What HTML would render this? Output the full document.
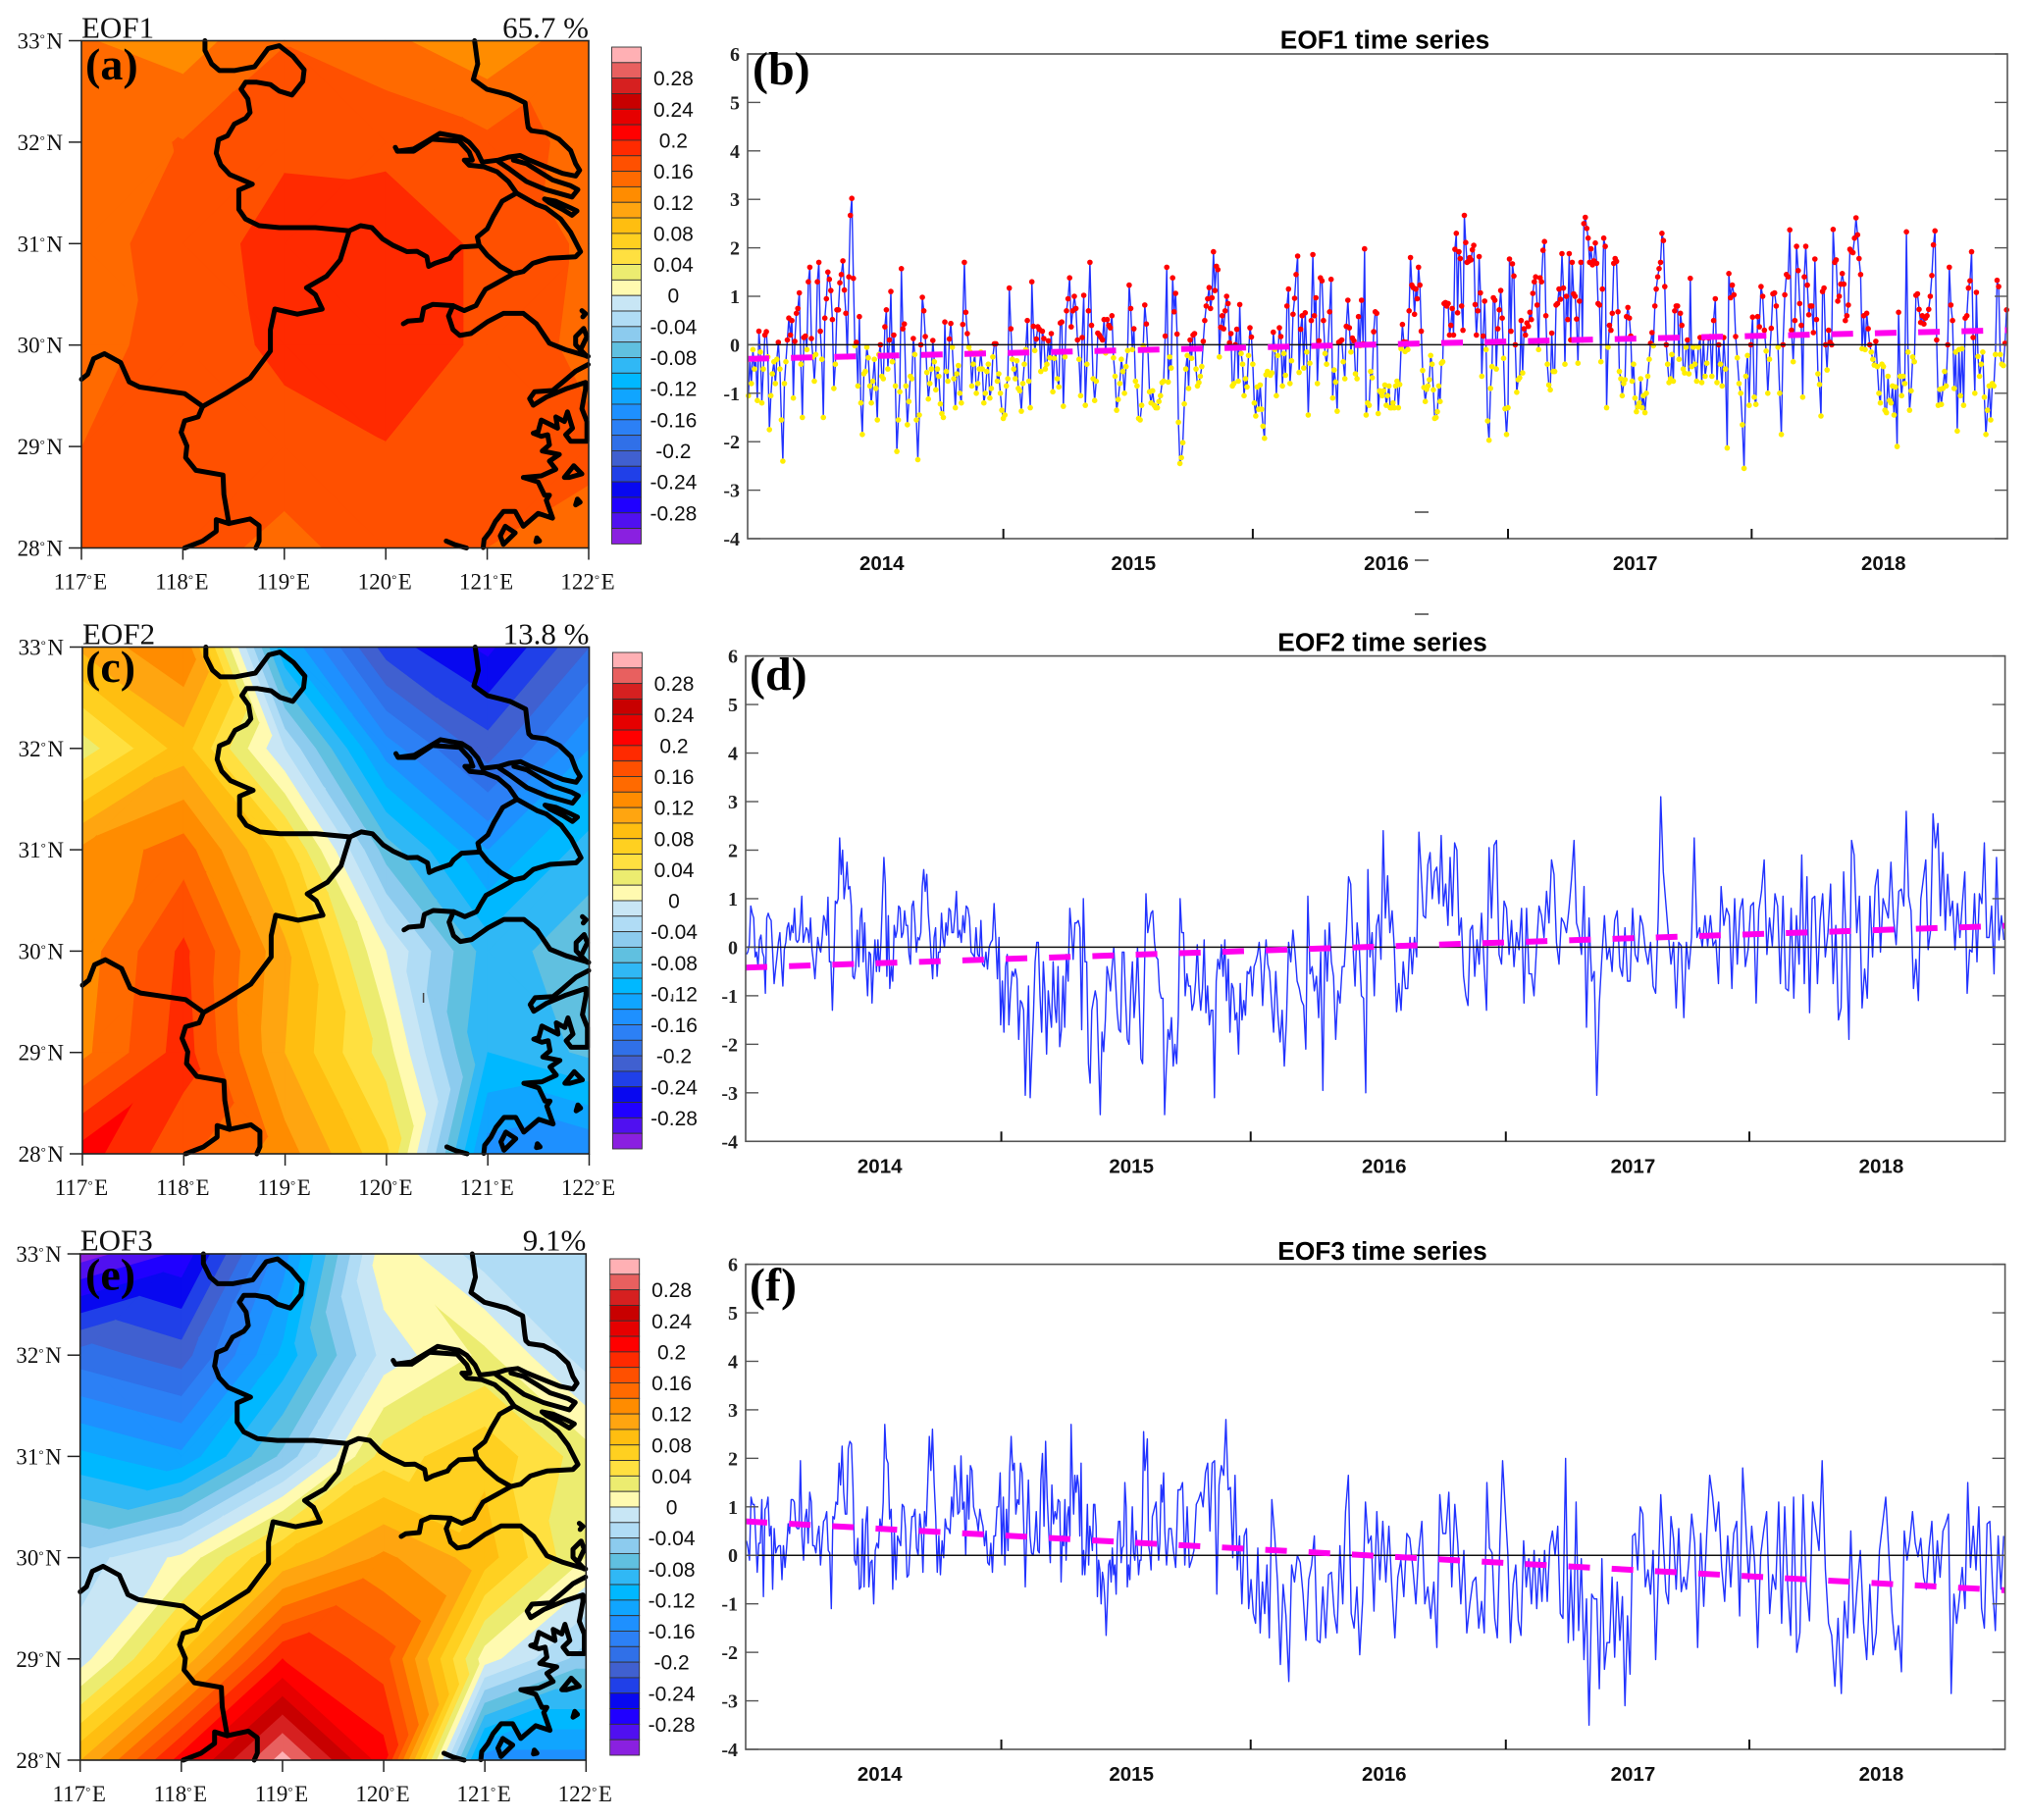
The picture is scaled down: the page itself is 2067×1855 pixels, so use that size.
<!DOCTYPE html>
<html lang="en">
<head>
<meta charset="utf-8">
<title>EOF modes and time series</title>
<style>
html,body{margin:0;padding:0;background:#fff;}
svg{display:block;}
</style>
</head>
<body>
<svg id="figure" xmlns="http://www.w3.org/2000/svg" width="2067" height="1855" viewBox="0 0 2067 1855"></svg>
<script>
/* ---------- spatial fields (rows lat 33..28, columns lon 117..122) ---------- */
const eof1Field=[
[.142,.130,.159,.145,.125,.153],
[.152,.161,.177,.176,.165,.157],
[.150,.171,.187,.190,.177,.156],
[.153,.168,.185,.190,.177,.153],
[.160,.170,.1725,.1795,.170,.165],
[.165,.1705,.153,.172,.160,.152]];
const eof2Field=[
[.105,.14,-.12,-.23,-.265,-.20],
[.03,.09,-.02,-.15,-.21,-.14],
[.125,.15,.07,-.07,-.14,-.09],
[.13,.185,.105,0,-.09,-.067],
[.135,.19,.10,.03,-.10,-.075],
[.21,.165,.13,.065,-.15,-.16]];
const eof3Field=[
[-.31,-.275,-.15,.015,-.03,-.025],
[-.19,-.21,-.115,-.012,.025,-.03],
[-.115,-.135,-.055,.05,.075,.03],
[-.03,.005,.085,.125,.09,.02],
[-.01,.085,.20,.17,.01,-.05],
[.10,.21,.31,.21,-.15,-.15]];
const lonTicks=[117,118,119,120,121,122];
const latTicks=[33,32,31,30,29,28];
const colorLevels=[.30,.28,.26,.24,.22,.20,.18,.16,.14,.12,.10,.08,.06,.04,.02,0,-.02,-.04,-.06,-.08,-.10,-.12,-.14,-.16,-.18,-.20,-.22,-.24,-.26,-.28,-.30];
const bandColors=["#ffb0b4","#e8605f","#d62020","#c80000","#e60000","#ff0000","#ff2a00","#ff5000","#ff6a00","#ff8c00","#ffa510","#ffbe10","#ffd020","#ffe040","#ecec70","#fffab0","#c8e6f5","#b0dcf5","#8ccbee","#60c0e0","#30b8f5","#00b8ff","#10a5ff","#1e90ff","#2c80f5","#3070e8","#4060d0","#2040e8","#0808f0","#2000ff","#5010f0","#8a20e0"];
const colorbarLabels=["0.28","0.24","0.2","0.16","0.12","0.08","0.04","0","-0.04","-0.08","-0.12","-0.16","-0.2","-0.24","-0.28"];

/* ---------- time-series values, one array per twelfth of the time axis ---------- */
const eof1_b01=[-1.05,-.3,-.8,-.1,-.5,-.3,-1.15,.28,-.15,-1.2,-.5,.2,.27,-.25,-1.75,-1.05,-.6,-.35,-.8,-.3,.05,-.5,-1.55,-2.4,-.8,-.35,.1,.55,.2,.5,-1.1,.07,.65,.75,1.07,-.4,-1.5,.15,.18,-.1,1.3,1.6,.13,-.25,-.75,-.2,1.3,1.7,.28,-.3,-1.5,.55,.95,1.5,1.35,1.12,.52,-.9,-.4,.72,.72,1.28,1.45,1.73,1.13,.65,-.25,1.4,2.67,3.02];
const eof1_b02=[1.37,-.02,.05,-.85,.58,-1.2,-1.85,-.6,-.55,-.05,-.27,-.85,-1.2,-.75,-.3,-.9,-1.55,-.2,0,-.65,-.7,.37,.72,-.5,.1,1.1,-.35,.2,-.85,-2.2,-1.55,-.97,1.57,.33,.43,-.85,-1.65,-1.17,-.65,-.7,.13,-.2,-1.55,-2.37,-1.45,0,.98,.7,.17,-.57,-1.12,-.8,-.5,.09,-.35,-.93,-.5,-.65,-1.22,-1.42,-1.5,.47,-.55,-.75,.12,.44,-.05,-.7,-1.3,-.6];
const eof1_b03=[-.43,-1,-1.2,.42,1.7,.67,.23,-.05,-.15,-.85,-.4,-.2,-1,-.8,-.5,-.15,-.5,-1.2,-1,-.55,-.4,-1.1,-.9,-.25,.02,.02,-.75,-.6,-1,-1.35,-1.52,-1.45,-.85,-.7,1.17,.33,-.3,-.5,-.7,-.33,-.9,-.95,-1.37,-.8,-.4,-.1,.5,-.75,-1.3,1.3,.38,-.12,.12,.37,.32,-.55,.28,.13,-.5,-.4,.08,-.27,.23,-.97,-.28,-.15,-.7,-.87,.45,.47];
const eof1_b04=[-1.27,-.25,.7,.95,1.38,.37,.7,1,.75,.1,-.3,-1.05,.15,1.02,-1.25,-.4,.7,1.7,.4,-.7,-1.15,-.75,.24,.2,.15,.1,.52,-.17,.52,.4,.35,.6,-.27,-.65,-1.35,-1.13,-.8,-.3,-.55,-1,-.45,-.12,1.23,.75,-.1,.33,-.75,-.85,-1.52,-1.55,-1.25,-.02,.82,.43,-.12,-.97,-1.2,-.95,-1.25,-1.3,-1.3,-1.17,-1.05,-.78,-.75,.18,1.6];
const eof1_b05=[-.77,-.25,-.48,1.38,.68,1.06,.22,-1.6,-2.45,-2.33,-2.02,-1.22,-.5,-.22,-.9,.1,-.28,.2,.23,-.5,-.85,-.78,-.65,-.45,.07,.5,.8,.95,1.18,.75,.97,1.92,1.12,1.62,1.55,-.25,.36,.6,.33,.7,1,.85,.04,.23,-.85,-.8,0,.32,-.75,.83,-.18,-.4,-1.05,-.7,-.87,-.22,.35,.16,-.4,-1.2,-1.47,-.87,-1.33,-.83,-1.33,-1.68,-1.93,-.62,-.55,-.6,-.63,-.58];
const eof1_b06=[.26,-.1,-1.05,-.22,.35,.17,-.85,-.18,-.63,.8,1.15,-.8,-.33,.63,.96,1.45,1.83,-.57,.32,.6,-.48,.66,-.15,-1.45,-.38,.5,1.86,.6,.97,-.8,.08,1.38,1.32,.5,-.18,-.4,-.03,.68,1.35,-1.1,-.52,-.77,-1.37,.05,.07,.1,-.35,-.7,.38,.92,.35,-.15,.14,.08,-.6,-.7,.58,-.02,.92,.02,1.98,-1.45,-1.2,-1.25,-.55,-.68,.27,.68,.65];
const eof1_b07=[-1.42,-.95,-.98,-1.05,-.95,-.83,-1.25,-1.05,-.85,-1.3,-1.3,-1.2,-1.3,-.85,-.75,-1.3,-.82,-.08,.42,.06,-.14,.05,-.1,.7,1.8,1.23,1.18,.63,1.15,.95,1.6,1.23,.28,-.53,-.88,-1.17,-.92,-.85,-.72,-.22,-.4,-.93,-1.52,-1.5,-1.38,-.85,-1.17,-.38,-.35,.85,.87,.8,.85,.2,.4,.75,.2,1.97,2.3,.66,1.92,1.78,.8,.3,2.67,2.11,1.7,1.72,1.8,1.75,1.96,2.05,.83,.2,.7,1.82,1.07,-.65];
const eof1_b08=[.18,.9,-.1,-1.57,-1.97,-.9,-.45,.97,.92,-.5,.33,.72,1.12,.55,-.28,-1.32,-1.85,-1.3,1.77,.28,1.67,1.42,0,-.98,-.72,-.68,.5,-.58,.33,.2,.45,.38,.67,.52,1.06,1.3,1.4,.82,-.1,1.38,1.3,1.95,2.13,.6,-.4,-.83,-.93,.24,-.55,-.55,.82,.85,1.15,.94,1.88,1.17,-.4,1,.52,1.88,.1,1.7,1.05,1,.53,-.38,.9,1.7,.1,2.5,2.63,2.4];
const eof1_b09=[2.2,1.7,1.98,1.65,1.73,2.1,1.68,.85,.82,-.35,1.15,2.2,2.03,-1.3,-.05,.4,.3,.65,1.68,1.78,1.72,.68,-.55,-.7,-1.05,-.8,-.72,.58,.77,.55,.18,-.75,-.4,-1.1,-1.38,-1.28,-1.2,-.7,-1.3,-1.05,-1.4,-1,-.65,-.3,.03,.25,-.02,.8,1.15,1.4,1.57,1.7,2.3,2.15,1.2,0,-.4,-.78,-.7,-.2,-.75,.7,.8,.8,-.3,.65,.4,-.5,-.58,-.05,.1,-.6,1.37,-.45];
const eof1_b10=[-.05,-.4,-.75,-.05,.15,-.78,.14,-.65,-.38,.14,.17,-.65,.5,.95,-.78,0,-.4,-.85,.15,-.5,-2.13,1.47,.97,1.23,1.03,.17,-.27,-.8,-1,-1.65,-2.55,-.65,-.22,-1.25,0,.57,-1.08,-1.23,.58,.37,1.2,1,.3,-.13,-1,-.3,.34,1.05,1.07,.8,-.05,-1,-1.85,0,1.03,1.45,1.4,2.37,.3,-.35,.5,2.03];
const eof1_b11=[1.53,.85,.4,-1.08,1.4,2.03,1.23,.62,.8,.8,.25,1.77,.52,-.6,-.82,-1.47,1.1,1.17,0,-.52,.3,.05,0,2.38,1.7,1.75,.9,1,1.25,1.47,1.25,.5,.6,.82,1.97,1.92,1.9,2.2,2.62,2.27,1.78,1.45,-.08,.6,-.1,.65,.33,0,-.15,-.3,-.42,.07,-.45,-1,-1.2,-.4,-.45,-1.35,-1.4,-.65,-1.15,-1.2,-.85,-1.45,-.87,-2.1,.67,-.65,-1.05];
const eof1_b12=[-.65,-.8,2.33,-.15,-1.35,-.95,-.25,-.35,1.02,1.05,.73,.46,.6,.43,.55,.6,.73,1,1.43,2.06,2.35,.1,-1.25,-.92,-1.23,-.9,-.55,-.85,0,1.6,.82,.5,-.9,-.15,-1.78,-.1,-1.05,-.08,-1.25,.55,.6,1.17,1.32,1.92,.15,-1,1.08,-.24,-.65,-.4,-.15,-1.08,-1.85,-1.35,-.85,-1.55,-.8,-.85,-.2,1.33,1.2,-.2,-.4,-.43,.03,.72];

const eof2_b01=[-.15,-.1,.05,.85,.7,.6,-.2,-.1,-.4,.15,.25,-.1,-.2,-.95,.6,.7,.6,.55,-.1,-.75,-.45,-.2,.1,.3,-.3,-.8,-.05,.1,.4,.5,.15,.45,.3,.8,.15,.1,.15,.5,1.05,.1,.25,.4,.35,.1,.6,-.05,-.3,-.65,-.2,.2,0,-.1,.2,.65,.55,.25,1.03,-.3,-.3,-1.3,-.3,.95,.9,1,2.25,1.5,2,1,1.3,1.75,1.2,1.25];
const eof2_b02=[.85,-.6,-.65,-.4,.35,-.4,.6,.8,-.3,.5,-.4,-1,-.1,-.15,-1.15,-.4,.15,-.5,.15,-.5,.1,1,1.85,1.3,-.6,.65,-.85,-.4,-.7,.45,.2,.35,.85,.8,.2,.3,.75,.45,.45,-.15,-.35,.85,.95,.5,-.1,.2,.15,.3,1.25,1.6,1.15,1.5,.7,.3,-.2,-.65,.2,.4,-.6,-.1,-.1,.7,.2,0,.5,.25,.8,.75,.3,.3,.65];
const eof2_b03=[1.15,.2,.35,.1,.65,.3,.85,.8,.6,-.1,-.15,-.2,.4,-.15,-.2,.55,-.35,-.4,-.1,-.45,0,.1,.15,.9,.2,-.65,.2,-1.6,-.7,-1.75,-.4,-.15,-1.6,-.95,-.5,-.6,-.45,-.65,-1.9,-1.1,-1.15,-1.3,-3.05,-1.9,-.8,-3.1,-2.2,-1.4,-.3,.1,.1,-1,-1.75,-.3,-.9,-2.2,-.9,-1.3,-1.65,-.3,-1.2,-1.55,-.4,-2.05];
const eof2_b04=[-1.7,-.6,-1.65,-.15,-.7,.8,.35,-.25,.5,.5,.55,.4,-1.7,1,-.3,-.3,-2.4,-2.8,-1.3,-1.1,-.9,-1.1,-2.3,-3.45,-1.75,-2.15,-1.5,-.4,-.6,-.9,-.4,0,-.7,-1.35,-1.7,-1.75,-.1,-.1,-1.1,-1.9,-2,-.9,-.3,-1.45,-.9,0,-1.1,-2.3,-2.4,-.7,1.1,.3,.5,.7,.75,.1,-.2,-.25,-.9,-1.05,-1.05,-3.45];
const eof2_b05=[-2.5,-1.7,-1.9,-1.45,-2.45,-2,-2.4,-1.4,1,.3,.3,-1,-.55,-.8,-.8,-1.3,-1.15,-.7,.05,-.85,-1.3,-.85,.15,-1.35,-.8,-1.6,-1.3,-1.3,-3.1,-.7,-.25,-.45,.05,-.6,.15,-1.1,-.25,-1.75,-.75,-.85,-1.5,-1.35,-2.2,-.75,-1.5,-1.1,-1.4,-.5,-.55,-.4,-1,-.4,-.3,-.15,.1,-.35,-1.2,-.4,.15,-.35,-.5];
const eof2_b06=[-1.1,-1.75,-.5,-1.4,-1.95,-1.3,-2.45,-1.5,.1,-.3,.35,-.1,-.7,-.85,-1.1,-1.2,-2.1,1.05,-.55,-.4,-.9,-.6,-1.45,-.1,-2.95,.35,-.7,.5,-.3,-.6,-1.9,-.9,-1.15,-.4,-.4,.35,1.45,1.3,.05,-.8,.5,0,-1,-1.05,-3,1.6,-.2,.3,-1];
const eof2_b07=[.43,.67,-.25,2.4,.6,1.47,.3,.75,0,-1.33,-.75,-1.3,-.3,-.85,-.85,.2,-.55,.2,-.2,2.37,1.55,.65,.6,1.7,1.95,1,1.55,1.65,.9,2.3,.85,1.3,.45,1.85,.65,2.15,2,.25,.6,-.6,-1,-1.2,.35,.45,-.6,.15,-.35];
const eof2_b08=[.7,-.35,-1.3,2.05,.6,2.1,2.2,-.15,-.35,.95,.8,-.15,.55,-.4,.3,-.05,.8,-1.15,.8,-.55,-.55,-1,0,.85,.65,.2,1.15,.5,1.8,1.5,.1,-.35,.6,.5,.3,.8,1.4,2.2,.5,.3,-.15,1.25];
const eof2_b09=[-1.65,.6,-.7,-.5,-3.05,-1.15,-.2,.65,-.25,0,-.5,.55,.75,-.4,-.6,.4,-.7,-.7,.8,-.15,-.3,.65,.45,-.05,-.35,.1,-.8,-.95,.6,3.1,1.55,.9,.25,-.35,.1,-1.25,.1,.03,-1.45,.1,-.45];
const eof2_b10=[.2,2.25,.2,.4,0,.65,.03,.65,.03,.15,-.75,1.25,.45,.8,.65,-.85,1,-.35,.75,1,-.4,-.05,.85,.92,-1.15,.75,1.15,1.8,-.15,.6,.03,1.1,.85,-.75,1.05,-.85,-.9,.8,-1.05];
const eof2_b11=[.65,-.35,1.9,-.75,1.45,-1.35,1,1.05,-.75,.55,1.1,-.2,.3,1.3,-.75,.45,-1.5,-1.25,1.55,.03,-1.9,2.2,1.9,.3,1.05,-1.25,-.45,-1.05,1.05,-.2,1.25,1.6,-.1,1,.8,.6,1.75,.6,.05,1.15];
const eof2_b12=[1.2,.85,2.8,1.05,.75,-.85,-.25,-1.1,1,1.4,1.8,-.05,.35,2.75,2.05,2.55,.65,1.95,.35,1.5,.65,.95,-.05,.9,.2,.9,1.55,-.95,-.05,-.1,1.1,-.3,1.1,.9,2.15,.2,.2,.85,-.55,1.85,.15,.65,.15];

const eof3_b01=[.3,.15,-.1,1.2,1.05,1.05,.4,-.35,.25,.25,1.15,-.85,.95,1,1.2,.4,.6,-.7,.55,.05,.15,.2,.2,-.5,.2,-.25,.15,.65,.45,1.15,1.15,1.1,.6,.55,.55,1.95,.4,-.1,.75,.95,.25,1.3,1.1,.2,.2,.05,.4,.6,-.2,.3,.7,.75,.9,.1,.05,-1.1,.8,.75,1.1,1.05,1.9,1.45,2.25,1.3,.85,.85,2.2,2.35];
const eof3_b02=[2.3,1.4,-.1,-.2,.35,-.7,-.65,.75,-.65,.65,1,-.65,-.15,-.1,-1,.1,.25,.15,.75,.5,1.1,2.7,2,1.9,.75,.95,-.7,.5,-.5,.4,.3,.2,1.05,1,.55,-.45,-.4,.2,.8,.8,.95,.15,0,.85,.5,-.35,.9,.6,1.5,2.45,1.75,2.6,1.5,.8,-.35,.4,-.4,.3,-.05,.75,.55,.55,.45,1.2,.8,1.85];
const eof3_b03=[1.5,.85,.9,2.05,.95,1.1,0,1.65,.75,1.85,1.75,1,.85,.75,.5,.95,.75,.6,.2,.5,-.15,-.2,.25,-.35,.4,.4,1,1,1.7,0,1.2,-.2,.95,.1,1.7,2.45,1.75,1.9,.85,1.15,1.05,1.9,1.7,.65,-.65,.6,1.55,.4,.05,0,.3,.9,.1,.05,1.55,2.1,.6,2.35,1.2,.5,-.15,1.45,.65,.9,.75,1.15,1.1];
const eof3_b04=[-.55,.4,.2,1.15,-.1,.8,1,.4,2.7,1.6,.85,1.65,1.3,1.65,1.4,.4,1.9,-.4,.1,-.4,.1,1.05,-.2,.6,.4,.1,1.05,1.05,.6,-.85,-.1,-.3,-1,-.35,-.5,-.9,-1.65,-.95,-.2,-.1,-.55,.15,-.4,-.2,-.8,.3,.7,.7,-.15,.15,.2,1.5,1,-.65,-.2,-.5,.2,1,.05,-.1,.5,.15,-.4,-.1,-.1,.75,2.55,1.75,2,2.4,.2,.05,-.3,.8,.9,1,1.1,.4,-.1,.25,1.45,1.1,1.7,.5];
const eof3_b05=[-.2,.55,.55,.1,-.25,1.35,1.35,1.5,-.2,1,-.25,-.1,.1,1.05,1.15,1.3,1,1.7,1.9,.5,1.9,1.95,-.8,1.45,1.85,1.65,2.8,1.35,1.4,-.05,1.65,-.3,.4,-1,.4,.55,-1.1,-.5,-1.2,-1.4,.15,-1.6,-.55,-1.2,-.2,-1.7];
const eof3_b06=[1.15,.4,-.55,-2.25,-.6,-1.25,-2.6,-.2,-.55,0,-.15,-.8,-1.75,-.5,-.2,.4,-1.75,-1.8,-.65,-1.7,-.4,-.35,-1.2,-1.6,.2,-1,.9,1.65,-1.2,-1.5,-.65,-2.05,-.95,1.1,.25,.4,-1.15];
const eof3_b07=[.9,-.5,.7,-.55,.6,-.65,-1.7,-.45,-.1,-.85,.45,.35,-.25,-1,.1,.7,-1,-.65,-1.3,-.55,-1.9,1.25,.45,.45,1.3,-.65,1.05,.25,-1,.1,-1.6,-1,-.55,-.45,-1.5];
const eof3_b08=[-.95,-1.6,1.5,.15,.05,-1.3,-1.7,.3,1.95,.95,.05,-1.8,-.6,-.2,-1.35,-1.65,.3,-.65,-.07,-1,.1,-1.1,-.07,-.95,.1,-.95,.2,.5,0,.6,-1.2,-1.3,2,-1.8,-.3,-1.75,1.1,-1.55,-.07,-2.15];
const eof3_b09=[-.9,-3.5,-.8,-.9,-.9,-2.75,-.07,-2.35,-1.8,-1.8,-.45,-2.1,-.55,-1.75,-.85,-3.1,-1.25,-2.45,.4,.45,-.3,1,.85,-.65,-.3,-.8,.1,-2.15,-.5,1.25,.25,-.75,-1,.8,.35,-.7,.55,-.75,-.45,-.7,-.1];
const eof3_b10=[.85,.25,-1.9,.45,-1.05,.4,1.65,1.2,.5,1.1,-.25,-.95,.4,-.65,.45,.7,-1.25,1.8,.7,-.55,.6,-.15,-1.9,0,.5,.9,-1.2,-.4,-.7,1.1,-1.4,1,-.6,-1.65,1.2];
const eof3_b11=[-2,-1.6,1.25,-.6,-1.35,1.1,.6,.1,1.95,-.3,-1.4,-1.65,-2.7,-1.3,-2.85,-.95,-1.7,.5,-1.6,-.65,.1,-1.4,-2.15,-.6,-2.05,-1.6,.1,.65,1.2,0,-1.2,-1.95,-1.45];
const eof3_b12=[-2.4,.5,-.1,.3,.9,.25,-.03,.35,-.45,-.7,.15,.7,-.65,.3,-.45,.5,.65,.85,-2.85,-.8,-1.4,-.85,-.25,-1.1,1.5,-.25,.6,-.3,1,-1.1,-1.5,.65,.7,-.65,-1.55,.4,-.7,.4];

const eof1Blocks=[eof1_b01,eof1_b02,eof1_b03,eof1_b04,eof1_b05,eof1_b06,eof1_b07,eof1_b08,eof1_b09,eof1_b10,eof1_b11,eof1_b12];
const eof2Blocks=[eof2_b01,eof2_b02,eof2_b03,eof2_b04,eof2_b05,eof2_b06,eof2_b07,eof2_b08,eof2_b09,eof2_b10,eof2_b11,eof2_b12];
const eof3Blocks=[eof3_b01,eof3_b02,eof3_b03,eof3_b04,eof3_b05,eof3_b06,eof3_b07,eof3_b08,eof3_b09,eof3_b10,eof3_b11,eof3_b12];
const eof1Trend=[-.29,.30];
const eof2Trend=[-.42,.44];
const eof3Trend=[.70,-.72];
const valueTicks=[-4,-3,-2,-1,0,1,2,3,4,5,6];
const yearLabels=["2014","2015","2016","2017","2018"];
const yearLabelFractions=[.1065,.3063,.507,.7046,.9017];
const yearTickFractions=[.203,.401,.6036,.797];

/* ---------- coastline / boundary traces, in units of 1/225 degree lon and 1/261.6 degree lat from the 117E/33N corner ---------- */
const boundaryTraces=[
[[274,0],[274,25],[289,60],[306,77],[339,77],[384,67],[414,20],[439,13],[469,40],[494,75],[491,105],[467,140],[439,130],[419,113],[389,107],[364,107],[354,125],[369,150],[374,185],[364,200],[339,215],[324,245],[304,255],[299,290],[309,320],[329,345],[379,370],[349,385],[349,435],[364,460],[394,477],[439,482],[519,482],[594,490],[619,477],[644,482],[668,511],[690,527],[722,544],[744,543],[766,557],[770,582],[784,574],[817,561],[824,549],[842,532],[882,529]],
[[594,490],[574,565],[544,607],[499,637],[519,655],[534,692],[479,705],[429,692],[419,745],[419,800],[374,870],[319,910],[269,943],[229,910],[129,893],[106,880],[87,830],[51,807],[27,820],[14,860],[0,873]],
[[269,943],[259,970],[229,980],[221,1010],[234,1045],[231,1075],[254,1108],[314,1120],[316,1170],[327,1245],[299,1235],[299,1265],[269,1290],[229,1308]],
[[327,1245],[374,1233],[394,1250],[394,1290],[387,1308]],
[[965,393],[933,414],[914,452],[900,485],[878,506],[882,527],[900,553],[929,582],[958,601],[980,595],[1001,574],[1038,561],[1096,557],[1107,544],[1085,494],[1063,460],[1030,431],[1009,422],[965,393]],
[[958,601],[929,620],[896,641],[885,662],[875,683],[849,696],[824,683],[779,680],[759,690],[754,720],[724,723],[714,730]],
[[824,683],[814,710],[824,745],[839,760],[864,755],[900,725],[936,703],[980,703],[1009,730],[1038,780],[1074,797],[1124,814]],
[[872,0],[879,60],[869,100],[899,125],[949,140],[984,160],[989,210],[991,224],[998,232],[1030,237],[1059,254],[1085,283],[1096,317],[1105,334],[1096,349],[1067,342],[1030,325],[994,308],[973,296],[947,300],[925,308],[889,313],[878,287],[860,262],[842,249],[795,239],[762,262],[737,279],[701,285],[696,275]],
[[701,285],[737,285],[777,254],[838,259],[860,287],[867,308],[849,308],[860,321],[893,325],[922,338],[947,363],[965,393]],
[[925,312],[947,329],[987,363],[1030,384],[1088,403],[1101,384],[1085,374],[1045,359],[1016,338],[987,317],[958,308]],
[[1027,408],[1052,414],[1085,431],[1099,439],[1088,450],[1067,435],[1038,418],[1027,408]],
[[1124,835],[1096,852],[1067,881],[1045,902],[1005,905],[994,923],[1002,940],[1031,919],[1074,898],[1118,881],[1118,898],[1110,949],[1121,982],[1121,1033],[1085,1033],[1074,1016],[1089,999],[1078,957],[1071,982],[1052,970],[1056,999],[1020,978],[1013,1008],[1002,1012],[1020,1020],[1034,1016],[1038,1042],[1022,1058],[1060,1067],[1038,1084],[1052,1105],[1020,1122],[980,1126],[1013,1138],[1027,1172],[1038,1172],[1031,1185],[1045,1231],[1013,1219],[980,1252],[962,1214],[936,1214],[918,1240],[907,1265],[893,1286],[891,1307]],
[[940,1252],[962,1269],[936,1299],[929,1277],[940,1252]],
[[809,1290],[829,1300],[854,1308]],
[[1110,696],[1118,704],[1112,712]],
[[1096,763],[1114,742],[1121,763],[1107,797],[1121,814],[1096,784],[1096,763]],
[[1082,1126],[1110,1117],[1092,1096],[1071,1126],[1082,1126]],
[[1100,1182],[1096,1197],[1106,1190],[1100,1182]],
[[1010,1282],[1016,1290],[1008,1292],[1010,1282]]
];

/* ---------- layout ---------- */
const mapPanels=[
{id:"eof1",field:eof1Field,x:83,y:41.5,w:517,h:517,title:"EOF1",pct:"65.7 %",tag:"(a)",tagX:87,tagY:81,tb:38.7,cx:623.5,cw:30,cy:48,ch:506.4,lx:686.4},
{id:"eof2",field:eof2Field,x:84,y:659.5,w:516.5,h:516.5,title:"EOF2",pct:"13.8 %",tag:"(c)",tagX:87,tagY:695,tb:656.4,cx:624.4,cw:30,cy:665,ch:506,lx:687},
{id:"eof3",field:eof3Field,x:81.7,y:1278,w:515.6,h:516,title:"EOF3",pct:"9.1%",tag:"(e)",tagX:87,tagY:1314.5,tb:1274.5,cx:621.7,cw:30,cy:1283,ch:506,lx:684.6}];
const tsPanels=[
{id:"eof1",blocks:eof1Blocks,trend:eof1Trend,x:762,y:55,w:1284,h:494,title:"EOF1 time series",titleX:1411.5,titleY:49.4,tag:"(b)",tagX:767,tagY:86,markers:true},
{id:"eof2",blocks:eof2Blocks,trend:eof2Trend,x:760,y:668.6,w:1283.6,h:494.7,title:"EOF2 time series",titleX:1409,titleY:663.5,tag:"(d)",tagX:764,tagY:703,markers:false},
{id:"eof3",blocks:eof3Blocks,trend:eof3Trend,x:760,y:1288.6,w:1283.6,h:494.4,title:"EOF3 time series",titleX:1409,titleY:1284,tag:"(f)",tagX:764,tagY:1325.5,markers:false}];

const NS="http://www.w3.org/2000/svg";
const root=document.getElementById("figure");
function mk(tag,attrs,parent){
  const el=document.createElementNS(NS,tag);
  for(const k in attrs){el.setAttribute(k,attrs[k]);}
  (parent||root).appendChild(el);
  return el;
}
const SERIF='"Liberation Serif", serif';
const SANS='"Liberation Sans", sans-serif';

function clipBand(tri,lo,hi){
  let poly=tri;
  const clip=(pts,limit,sign)=>{
    const out=[];
    for(let i=0;i<pts.length;i++){
      const a=pts[i],b=pts[(i+1)%pts.length];
      const da=sign*(a[2]-limit),db=sign*(b[2]-limit);
      if(da>=0){out.push(a);}
      if((da>=0)!==(db>=0)){
        const f=da/(da-db);
        out.push([a[0]+f*(b[0]-a[0]),a[1]+f*(b[1]-a[1]),limit]);
      }
    }
    return out;
  };
  poly=clip(poly,lo,1);
  if(poly.length){poly=clip(poly,hi,-1);}
  return poly;
}

function drawMap(p){
  const lonX=lon=>p.x+(lon-117)/5*p.w;
  const latY=lat=>p.y+(33-lat)/5*p.h;
  const g=mk("g",{});
  
  
  const fillG=mk("g",{},g);
  
  
  const bounds=[Infinity].concat(colorLevels).concat([-Infinity]);
  for(let r=0;r<latTicks.length-1;r++){
    for(let c=0;c<lonTicks.length-1;c++){
      const a=[lonTicks[c],latTicks[r],p.field[r][c]];
      const b=[lonTicks[c+1],latTicks[r],p.field[r][c+1]];
      const d=[lonTicks[c+1],latTicks[r+1],p.field[r+1][c+1]];
      const e=[lonTicks[c],latTicks[r+1],p.field[r+1][c]];
      /* split each cell along the diagonal whose end values are closest */
      const tris=Math.abs(a[2]-d[2])<=Math.abs(b[2]-e[2])?[[a,b,d],[a,d,e]]:[[a,b,e],[b,d,e]];
      tris.forEach(tri=>{
        for(let i=0;i<bandColors.length;i++){
          const hi=bounds[i]===Infinity?9:bounds[i];
          const lo=bounds[i+1]===-Infinity?-9:bounds[i+1];
          const poly=clipBand(tri,lo,hi);
          if(poly.length>2){
            const el=mk("polygon",{points:poly.map(q=>lonX(q[0]).toFixed(1)+","+latY(q[1]).toFixed(1)).join(" "),fill:bandColors[i],stroke:bandColors[i],"stroke-width":.7},fillG);
            
            
          }
        }
      });
    }
  }
  const borderG=mk("g",{fill:"none",stroke:"#000","stroke-width":5,"stroke-linejoin":"round","stroke-linecap":"round"},g);
  
  
  boundaryTraces.forEach(tr=>{
    const pts=tr.map(q=>lonX(117+q[0]/225).toFixed(1)+","+latY(33-q[1]/261.6).toFixed(1)).join(" ");
    const el=mk("polyline",{points:pts},borderG);
    
    
  });
  const frame=mk("rect",{x:p.x,y:p.y,width:p.w,height:p.h,fill:"none",stroke:"#222","stroke-width":1.6},g);
  
  
  lonTicks.forEach(lon=>{
    const x=lonX(lon);
    const tick=mk("line",{x1:x,x2:x,y1:p.y+p.h,y2:p.y+p.h+12,stroke:"#222","stroke-width":1.5},g);
    
    
    const t=mk("text",{x:x-1,y:p.y+p.h+42,"text-anchor":"middle","font-family":SERIF,"font-size":23,fill:"#111"},g);
    t.innerHTML=lon+'<tspan font-size="13" dy="-6">°</tspan><tspan dy="6" dx="1.5">E</tspan>';
    
    
  });
  latTicks.forEach(lat=>{
    const y=latY(lat);
    const tick=mk("line",{x1:p.x-13,x2:p.x,y1:y,y2:y,stroke:"#222","stroke-width":1.5},g);
    
    
    const t=mk("text",{x:p.x-19,y:y+8,"text-anchor":"end","font-family":SERIF,"font-size":23,fill:"#111"},g);
    t.innerHTML=lat+'<tspan font-size="13" dy="-6">°</tspan><tspan dy="6" dx="1.5">N</tspan>';
    
    
  });
  const title=mk("text",{x:p.x,y:p.tb,"font-family":SERIF,"font-size":31,fill:"#111"},g);
  title.textContent=p.title;
  
  
  const pct=mk("text",{x:p.x+p.w,y:p.tb,"text-anchor":"end","font-family":SERIF,"font-size":31,fill:"#111"},g);
  pct.textContent=p.pct;
  
  
  const tag=mk("text",{x:p.tagX,y:p.tagY,"font-family":SERIF,"font-size":46,"font-weight":"bold",fill:"#000"},g);
  tag.textContent=p.tag;
  
  

  /* colour bar */
  const cb=mk("g",{},g);
  
  
  const cellH=p.ch/bandColors.length;
  bandColors.forEach((col,i)=>{
    const cell=mk("rect",{x:p.cx,y:p.cy+i*cellH,width:p.cw,height:cellH,fill:col,stroke:"#333","stroke-width":.9},cb);
    
    
  });
  colorbarLabels.forEach((lab,i)=>{
    const t=mk("text",{x:p.lx,y:p.cy+(2+i*2)*cellH+7.5,"text-anchor":"middle","font-family":SANS,"font-size":21,fill:"#111"},cb);
    t.textContent=lab;
    
    
  });
}

function drawSeries(p){
  const timeX=t=>p.x+t/12*p.w;
  const valueY=v=>p.y+(6-v)/10*p.h;
  const g=mk("g",{});
  
  
  const pts=[];
  p.blocks.forEach((blk,b)=>{
    blk.forEach((v,j)=>{
      pts.push([b+(j+.5)/blk.length,v]);
    });
  });
  const line=mk("polyline",{points:pts.map(q=>timeX(q[0]).toFixed(1)+","+valueY(q[1]).toFixed(1)).join(" "),fill:"none",stroke:"#2233ff","stroke-width":1.4,"stroke-linejoin":"round"},g);
  
  
  if(p.markers){
    pts.forEach(q=>{
      const dot=mk("circle",{cx:timeX(q[0]).toFixed(1),cy:valueY(q[1]).toFixed(1),r:2.8,fill:q[1]>=0?"#ff0000":"#ffee00"},g);
      
      
    });
  }
  const zero=mk("line",{x1:p.x,x2:p.x+p.w,y1:valueY(0),y2:valueY(0),stroke:"#111","stroke-width":1.5},g);
  
  
  const trend=mk("line",{x1:timeX(0),x2:timeX(12),y1:valueY(p.trend[0]),y2:valueY(p.trend[1]),stroke:"#ff00ee","stroke-width":6,"stroke-dasharray":"22 22.2"},g);
  
  
  const frame=mk("rect",{x:p.x,y:p.y,width:p.w,height:p.h,fill:"none",stroke:"#555","stroke-width":1.6},g);
  
  
  valueTicks.forEach(v=>{
    const y=valueY(v);
    const left=mk("line",{x1:p.x,x2:p.x+13,y1:y,y2:y,stroke:"#555","stroke-width":1.4},g);
    
    
    const right=mk("line",{x1:p.x+p.w-13,x2:p.x+p.w,y1:y,y2:y,stroke:"#555","stroke-width":1.4},g);
    
    
    const t=mk("text",{x:p.x-8,y:y+7,"text-anchor":"end","font-family":SERIF,"font-size":20,"font-weight":"bold",fill:"#222"},g);
    t.textContent=String(v);
    
    
  });
  yearTickFractions.forEach(f=>{
    const x=p.x+f*p.w;
    const tick=mk("line",{x1:x,x2:x,y1:p.y+p.h-10,y2:p.y+p.h,stroke:"#111","stroke-width":2},g);
    
    
  });
  yearLabels.forEach((yr,i)=>{
    const t=mk("text",{x:p.x+yearLabelFractions[i]*p.w,y:p.y+p.h+32,"text-anchor":"middle","font-family":SANS,"font-size":20.5,"font-weight":"bold",fill:"#111"},g);
    t.textContent=yr;
    
    
  });
  const title=mk("text",{x:p.titleX,y:p.titleY,"text-anchor":"middle","font-family":SANS,"font-size":26.3,"font-weight":"bold",fill:"#000"},g);
  title.textContent=p.title;
  
  
  const tag=mk("text",{x:p.tagX,y:p.tagY,"font-family":SERIF,"font-size":48,"font-weight":"bold",fill:"#000"},g);
  tag.textContent=p.tag;
  
  
}

mapPanels.forEach(drawMap);
tsPanels.forEach(drawSeries);

/* small stray marks present in the figure */
const strayMarks=[[1442,522,1456,522],[1442,571,1456,571],[1442,626,1456,626],[431.6,1012,431.6,1022],[685.5,1013,685.5,1021]];
strayMarks.forEach(s=>{
  const el=mk("line",{x1:s[0],y1:s[1],x2:s[2],y2:s[3],stroke:"#444","stroke-width":1.5});
  
  
});
</script>
</body>
</html>
